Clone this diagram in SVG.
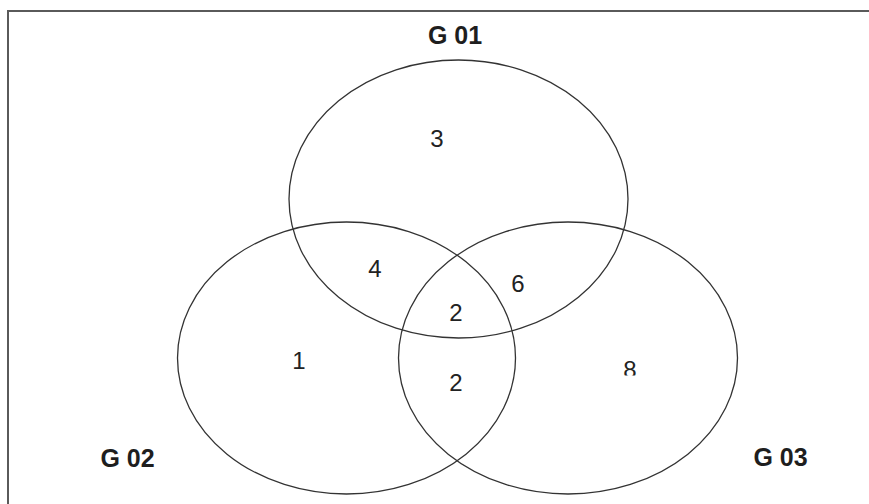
<svg xmlns="http://www.w3.org/2000/svg" width="869" height="504" viewBox="0 0 869 504">
  <style>
    .frame { fill: none; stroke: #5a5a5a; stroke-width: 2; }
    .set { fill: none; stroke: #333; stroke-width: 1.3; }
    .title { font-family: "Liberation Sans", Arial, sans-serif; font-weight: bold; font-size: 25px; fill: #1e1e1e; text-anchor: middle; }
    .count { font-family: "Liberation Sans", Arial, sans-serif; font-size: 24px; fill: #222; text-anchor: middle; }
  </style>
  <defs>
    <clipPath id="cut8">
      <rect x="600" y="340" width="60" height="35.5"/>
    </clipPath>
  </defs>
  <rect width="869" height="504" fill="#fff"/>
  <!-- outer frame: only its top and left edges fall inside the canvas -->
  <path class="frame" d="M8 504 V11 H869"/>

  <g id="connectors"></g>

  <g id="g01">
    <ellipse class="set" cx="458.5" cy="199" rx="169.5" ry="139"/>
    <text class="title" x="455" y="44">G 01</text>
  </g>
  <g id="g02">
    <ellipse class="set" cx="346.5" cy="358" rx="169" ry="136"/>
    <text class="title" x="127.5" y="467">G 02</text>
  </g>
  <g id="g03">
    <ellipse class="set" cx="568" cy="358" rx="169.5" ry="136"/>
    <text class="title" x="780.5" y="466">G 03</text>
  </g>

  <g id="counts">
    <text class="count" x="437" y="147">3</text>
    <text class="count" x="375" y="277">4</text>
    <text class="count" x="518" y="292">6</text>
    <text class="count" x="456" y="321">2</text>
    <text class="count" x="299" y="369">1</text>
    <text class="count" x="456" y="391">2</text>
    <text class="count" x="630" y="378" clip-path="url(#cut8)">8</text>
  </g>
</svg>
